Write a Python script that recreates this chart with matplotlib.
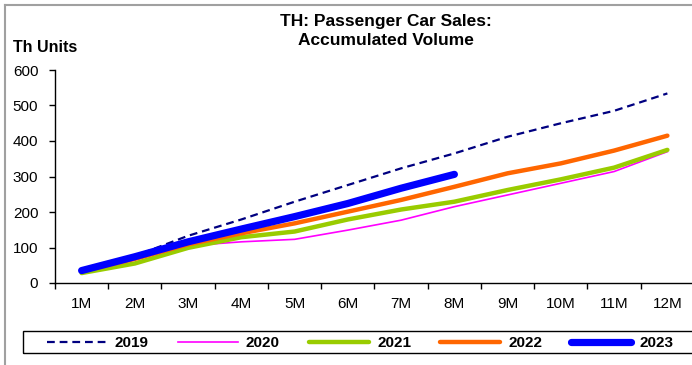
import numpy as np
import matplotlib.pyplot as plt
from matplotlib.lines import Line2D
from matplotlib.patches import Rectangle

plt.rcParams['font.family'] = ['Liberation Sans', 'DejaVu Sans']

months = ['1M', '2M', '3M', '4M', '5M', '6M', '7M', '8M', '9M', '10M', '11M', '12M']
y2019 = [35, 76, 133, 179, 229, 276, 323, 365, 412, 450, 485, 534]
y2020 = [33, 70, 105, 116, 123, 149, 177, 215, 248, 281, 314, 370]
y2021 = [28, 55, 99, 129, 145, 179, 207, 229, 262, 292, 325, 375]
y2022 = [33, 68, 109, 140, 168, 201, 234, 271, 309, 337, 373, 415]
y2023 = [35, 74, 116, 152, 187, 224, 267, 306]

W, H = 692, 365
fig = plt.figure(figsize=(W / 100, H / 100), dpi=100)
ax = fig.add_axes([55 / W, 1 - 283 / H, (694 - 55) / W, (283 - 70) / H])

x = np.arange(len(months))
ax.plot(x, y2019, color='#000080', lw=1.6, ls=(0, (3.5, 2.2)), label='2019')
ax.plot(x, y2020, color='#FF00FF', lw=1.2, label='2020')
ax.plot(x, y2021, color='#99CC00', lw=3.2, solid_capstyle='round', label='2021')
ax.plot(x, y2022, color='#FF6600', lw=3.2, solid_capstyle='round', label='2022')
ax.plot(x[:len(y2023)], y2023, color='#0000FF', lw=5.2, solid_capstyle='round', label='2023')

ax.set_xlim(-0.5, 11.5)
ax.set_ylim(0, 600)
ax.set_yticks(np.arange(0, 601, 100))
ax.set_xticks(x)
ax.set_xticklabels(months)
ax.set_xticks(np.arange(-0.5, 12, 1), minor=True)
ax.tick_params(axis='x', which='major', length=0, pad=10, labelsize=11)
ax.tick_params(axis='x', which='minor', length=4, width=1)
ax.tick_params(axis='y', length=4, width=1, pad=8, labelsize=11)
for s in ['top', 'right']:
    ax.spines[s].set_visible(False)
for s in ['left', 'bottom']:
    ax.spines[s].set_linewidth(1)

fig.text(386 / W, 1 - 31 / H, 'TH: Passenger Car Sales:\nAccumulated Volume',
         ha='center', va='center', fontsize=12.5, fontweight='bold', linespacing=1.3)
fig.text(13 / W, 1 - 47 / H, 'Th Units', ha='left', va='center',
         fontsize=11.5, fontweight='bold')

# legend frame runs past the right edge, as in the original
fig.add_artist(Rectangle((23 / W, 1 - 353 / H), (720 - 23) / W, 22 / H,
                         transform=fig.transFigure, fill=False,
                         edgecolor='black', lw=1))
leg = fig.legend(loc='center left', ncol=5, frameon=False,
                 bbox_to_anchor=(47 / W, 1 - 343 / H),
                 prop={'weight': 'bold', 'size': 11}, handlelength=3.9,
                 handletextpad=0.55, columnspacing=1.9, borderpad=0,
                 borderaxespad=0)

# outer chart border (only left and top visible)
fig.add_artist(Line2D([5 / W, 5 / W], [0, 1 - 5 / H], transform=fig.transFigure,
                      color='#A0A0A0', lw=1.5))
fig.add_artist(Line2D([5 / W, 1], [1 - 5 / H, 1 - 5 / H], transform=fig.transFigure,
                      color='#A0A0A0', lw=1.5))

fig.savefig('out.png', dpi=100)
